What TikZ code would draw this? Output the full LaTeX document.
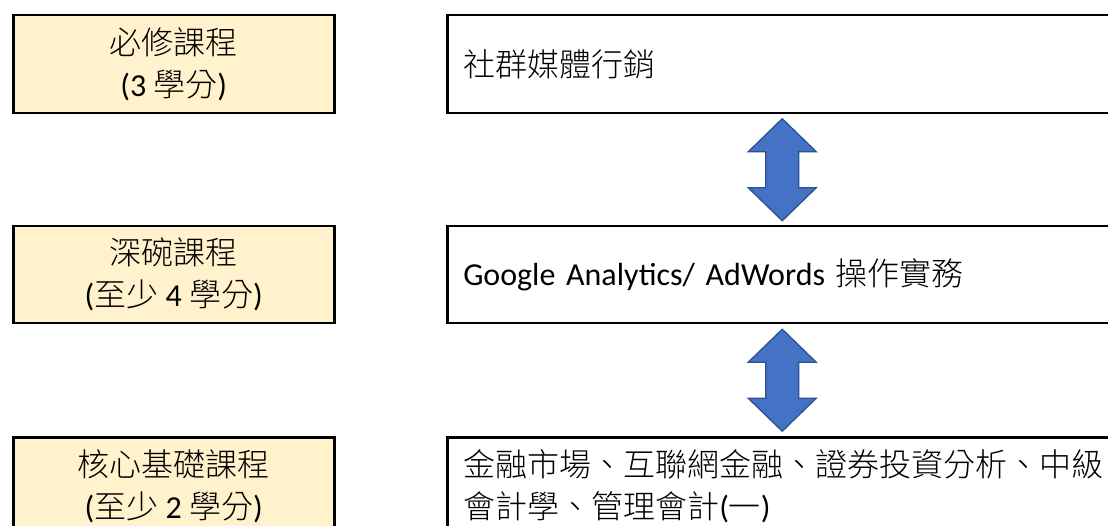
\documentclass[tikz,border=0pt]{standalone}
\usepackage{fontspec}
\setmainfont{Carlito}
\newfontfamily\cjk{Noto Sans CJK TC Light}
\usetikzlibrary{calc,positioning}

\tikzset{
  levelbox/.style={draw,line width=2.5pt,fill=levelfill,minimum width=321pt,minimum height=98pt,
    inner sep=0pt,align=center,anchor=north west,font=\fontsize{32}{42}\selectfont},
  coursebox/.style={draw,line width=2.5pt,fill=white,text width=638pt,inner xsep=16pt,inner ysep=0pt,
    minimum height=98pt,align=left,anchor=north west,font=\fontsize{32}{42}\selectfont},
  updown/.pic={
    \draw[line width=1.3pt,draw=arrowedge,fill=arrowfill,line join=miter]
      (0,-51) -- (34,-18) -- (16.5,-18) -- (16.5,18) -- (34,18) -- (0,51)
      -- (-34,18) -- (-16.5,18) -- (-16.5,-18) -- (-34,-18) -- cycle;
  }
}
\definecolor{levelfill}{HTML}{FFF2CC}
\definecolor{arrowfill}{HTML}{4472C4}
\definecolor{arrowedge}{HTML}{2F528F}

\begin{document}
\begin{tikzpicture}[x=1pt,y=-1pt]
\useasboundingbox[fill=white] (0,0) rectangle (1108,526);

% Level boxes
\node[levelbox] (req) at (12,14) {{\cjk 必修課程}\\(3 {\cjk 學分})};
\node[levelbox,minimum height=97pt] (adv) at (12,225) {{\cjk 深碗課程}\\({\cjk 至少} 4 {\cjk 學分})};
\node[levelbox] (core) at (12,436) {{\cjk 核心基礎課程}\\({\cjk 至少} 2 {\cjk 學分})};

% Course boxes
\node[coursebox] (reqc) at (446,14) {\cjk 社群媒體行銷};
\node[coursebox,minimum height=97pt] (advc) at (446,225) {Google Analytics/ AdWords {\cjk 操作實務}};
\node[coursebox] (corec) at (446,436) {{\cjk 金融市場、互聯網金融、證券投資分析、中級}\\{\cjk 會計學、管理會計}({\cjk 一})};

% Links
\coordinate (link1) at ($(reqc.south)!0.5!(advc.north)$);
\coordinate (link2) at ($(advc.south)!0.5!(corec.north)$);
\pic at (link1) {updown};
\pic at (link2) {updown};

\end{tikzpicture}
\end{document}
